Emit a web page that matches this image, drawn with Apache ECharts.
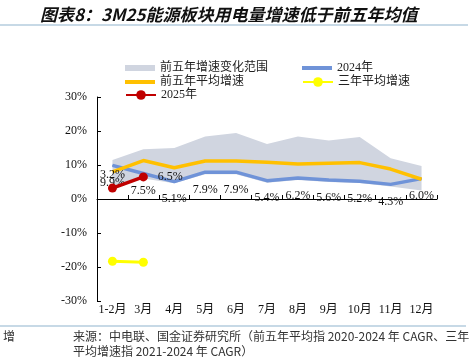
<!DOCTYPE html>
<html>
<head>
<meta charset="utf-8">
<script src="https://cdn.jsdelivr.net/npm/echarts@6/dist/echarts.min.js"></script>
<style>
html,body{margin:0;padding:0;background:#fff;}
#c{width:473px;height:359px;}
</style>
</head>
<body>
<div id="c"></div>
<script>
const categories = ['1-2月','3月','4月','5月','6月','7月','8月','9月','10月','11月','12月'];
const rangeLow  = [3.0, 6.0, 4.6, 7.3, 7.3, 4.8, 5.6, 5.0, 4.7, 3.7, 2.5];
const rangeHigh = [11.5, 14.6, 15.0, 18.4, 19.4, 16.2, 18.4, 17.2, 18.2, 12.0, 9.7];
const growth2024 = [9.9, 7.5, 5.1, 7.9, 7.9, 5.4, 6.2, 5.6, 5.2, 4.3, 6.0];
const avg5y = [8.0, 11.3, 9.2, 11.2, 11.2, 10.8, 10.3, 10.5, 10.7, 8.8, 5.8];
const avg3y = [-18.3, -18.6, null, null, null, null, null, null, null, null, null];
const growth2025 = [3.2, 6.5, null, null, null, null, null, null, null, null, null];
const yTicks = [-30, -20, -10, 0, 10, 20, 30];

const rangeSpan = rangeHigh.map((v, i) => +(v - rangeLow[i]).toFixed(2));

const serif = "'Liberation Serif','Times New Roman','Noto Sans CJK SC',serif";
const cjk = "'Noto Sans CJK SC','Noto Sans',sans-serif";
const lineCol = '#8FB4CE';
const pct = p => Number(p.value).toFixed(1) + '%';

const chart = echarts.init(document.getElementById('c'));

function legend(name, left, top, extra) {
  return Object.assign({
    left: left, top: top, itemWidth: 30, itemHeight: 12, itemGap: 0,
    textStyle: {fontFamily: serif, fontSize: 12, color: '#222', padding: [0,0,0,0]},
    data: [name], selectedMode: false
  }, extra || {});
}

chart.setOption({
  animation: false,
  textStyle: {fontFamily: serif},
  grid: {left: 97, right: 36, top: 97, bottom: 58},
  graphic: [
    {type: 'text', left: 40, top: 6, style: {text: '图表8：3M25能源板块用电量增速低于前五年均值', font: 'italic bold 17px ' + cjk, fill: '#111'}},
    {type: 'line', shape: {x1: 0, y1: 25, x2: 468, y2: 25}, style: {stroke: lineCol, lineWidth: 1.2}},
    {type: 'line', shape: {x1: 0, y1: 326, x2: 466, y2: 326}, style: {stroke: lineCol, lineWidth: 1.2}},
    {type: 'text', left: 3, top: 330, style: {text: '增', font: '12px ' + cjk, fill: '#333'}},
    {type: 'text', left: 73, top: 330, style: {text: '来源：中电联、国金证券研究所（前五年平均指 2020-2024 年 CAGR、三年', font: '12px ' + cjk, fill: '#333'}},
    {type: 'text', left: 73, top: 345, style: {text: '平均增速指 2021-2024 年 CAGR）', font: '12px ' + cjk, fill: '#333'}}
  ],
  legend: [
    legend('前五年增速变化范围', 120, 57, {itemHeight: 6, data: [{name: '前五年增速变化范围', icon: 'rect', itemStyle: {color: '#D0D5E0'}}]}),
    legend('2024年', 297, 57, {itemHeight: 4, data: [{name: '2024年', icon: 'rect', itemStyle: {color: '#6F93D8'}}]}),
    legend('前五年平均增速', 120, 71, {itemHeight: 4, data: [{name: '前五年平均增速', icon: 'rect', itemStyle: {color: '#FFC000'}}]}),
    legend('三年平均增速', 297, 71),
    legend('2025年', 120, 84)
  ],
  xAxis: {
    type: 'category', data: categories, boundaryGap: true,
    axisLine: {onZero: true, lineStyle: {color: '#000', width: 1}},
    axisTick: {show: true, inside: true, length: 4, lineStyle: {color: '#000'}},
    axisLabel: {fontFamily: serif, fontSize: 12, color: '#111', margin: 3, interval: 0}
  },
  yAxis: {
    type: 'value', min: -30, max: 30, interval: 10,
    axisLine: {show: true, lineStyle: {color: '#000', width: 1}},
    axisTick: {show: true, inside: true, length: 4, lineStyle: {color: '#000'}},
    splitLine: {show: false},
    axisLabel: {fontFamily: serif, fontSize: 12, color: '#111', margin: 10,
      formatter: v => yTicks.indexOf(v) >= 0 ? v + '%' : ''}
  },
  series: [
    {name: 'bandBase', type: 'line', stack: 'band', data: rangeLow, symbol: 'none',
     lineStyle: {opacity: 0}, silent: true, z: 1},
    {name: '前五年增速变化范围', type: 'line', stack: 'band', data: rangeSpan, symbol: 'none',
     lineStyle: {opacity: 0}, areaStyle: {color: '#D0D5E0', opacity: 1}, itemStyle: {color: '#D0D5E0'}, silent: true, z: 1},
    {name: '2024年', type: 'line', data: growth2024, symbol: 'circle', symbolSize: 1,
     lineStyle: {color: '#6F93D8', width: 3.5}, itemStyle: {color: '#6F93D8'}, z: 3,
     label: {show: true, position: 'bottom', distance: 11, formatter: pct, fontFamily: serif, fontSize: 12, color: '#111'}},
    {name: '前五年平均增速', type: 'line', data: avg5y, symbol: 'none',
     lineStyle: {color: '#FFC000', width: 3.5}, itemStyle: {color: '#FFC000'}, z: 4},
    {name: '三年平均增速', type: 'line', data: avg3y, symbol: 'circle', symbolSize: 9,
     lineStyle: {color: '#FFFF00', width: 3}, itemStyle: {color: '#FFFF00'}, z: 5},
    {name: '2025年', type: 'line', symbol: 'circle', symbolSize: 9,
     lineStyle: {color: '#C00000', width: 3.5}, itemStyle: {color: '#C00000'}, z: 6,
     label: {show: true, formatter: pct, fontFamily: serif, fontSize: 12, color: '#111'},
     data: [
       {value: growth2025[0], label: {position: 'top', distance: 3}},
       {value: growth2025[1], label: {position: 'right', distance: 10}}
     ].concat(growth2025.slice(2))}
  ]
});
</script>
</body>
</html>
